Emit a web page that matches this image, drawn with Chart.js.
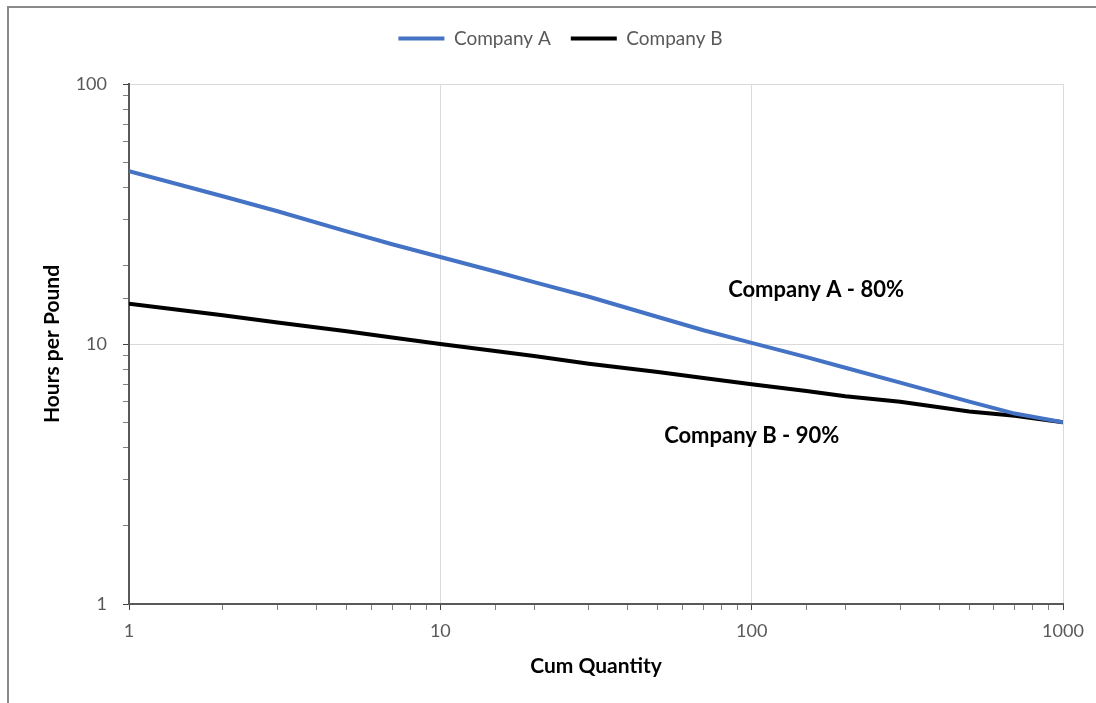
<!DOCTYPE html>
<html>
<head>
<meta charset="utf-8">
<script src="https://cdn.jsdelivr.net/npm/chart.js@4.4.1/dist/chart.umd.min.js"></script>
<style>
  html, body { margin: 0; padding: 0; background: #fff; }
  #wrap { position: relative; width: 1096px; height: 703px; overflow: hidden; }
  #c { position: absolute; left: 0; top: 0; }
  #frame { position: absolute; left: 7px; top: 6px; right: -4px; bottom: -4px;
           border-top: 2px solid #8a8a8a; border-left: 2px solid #8a8a8a; pointer-events: none; }
</style>
</head>
<body>
<div id="wrap">
  <canvas id="c" width="1096" height="703"></canvas>
  <div id="frame"></div>
</div>
<script>
// Cumulative quantity (units) and hours per pound for each learning curve
const quantities = [1, 2, 3, 5, 7, 10, 15, 20, 30, 50, 70, 100, 150, 200, 300, 500, 700, 1000];
const companyA   = [46.2, 37.0, 32.4, 27.1, 24.2, 21.6, 19.0, 17.3, 15.2, 12.7, 11.3, 10.1, 8.9, 8.1, 7.1, 6.0, 5.4, 5.0];
const companyB   = [14.3, 12.9, 12.1, 11.2, 10.6, 10.0, 9.4, 9.0, 8.4, 7.8, 7.4, 7.0, 6.6, 6.3, 6.0, 5.5, 5.3, 5.0];
const seriesNames  = ['Company A', 'Company B'];
const seriesColors = ['#4472C4', '#000000'];
const xDecades = [1, 10, 100, 1000];
const yDecades = [1, 10, 100];
const curveLabels = ['Company A - 80%', 'Company B - 90%'];

// where the curve labels sit, in data units
const labelAnchors = [{ x: 161, y: 16.1 }, { x: 100, y: 4.43 }];

const FONT = 'Lato, "Open Sans", sans-serif';
const isDecade = v => Math.abs(Math.log10(v) - Math.round(Math.log10(v))) < 1e-9;

const curveLabelPlugin = {
  id: 'curveLabels',
  afterDatasetsDraw(chart) {
    const { ctx, scales } = chart;
    ctx.save();
    ctx.font = 'bold 22px ' + FONT;
    ctx.fillStyle = '#000';
    ctx.textAlign = 'center';
    ctx.textBaseline = 'middle';
    curveLabels.forEach((t, i) => {
      const a = labelAnchors[i];
      ctx.fillText(t, scales.x.getPixelForValue(a.x), scales.y.getPixelForValue(a.y));
    });
    ctx.restore();
  }
};

// legend box: reserve room below the row and nudge it a little to the right
const legendSpacing = {
  id: 'legendSpacing',
  beforeLayout(chart) {
    const lg = chart.legend;
    if (lg && !lg._tallFit) {
      const baseFit = Object.getPrototypeOf(lg).fit;
      lg.fit = function () { baseFit.call(this); this.height = 75; };
      lg._tallFit = true;
    }
  },
  afterLayout(chart) {
    if (chart.legend) {
      chart.legend.left += 9;
      chart.legend.right += 9;
    }
  }
};

const toPoints = vals => quantities.map((q, i) => ({ x: q, y: vals[i] }));

new Chart(document.getElementById('c'), {
  type: 'line',
  data: {
    datasets: [companyA, companyB].map((vals, i) => ({
      label: seriesNames[i],
      data: toPoints(vals),
      borderColor: seriesColors[i],
      backgroundColor: seriesColors[i],
      borderWidth: 4,
      pointRadius: 0,
      tension: 0
    }))
  },
  options: {
    responsive: false,
    animation: false,
    layout: { padding: { left: 40, right: 33, top: 9, bottom: 24 } },
    plugins: {
      tooltip: { enabled: false },
      legend: {
        position: 'top',
        labels: {
          font: { family: FONT, size: 19 },
          color: '#595959',
          boxWidth: 46,
          boxHeight: 4,
          padding: 20,
          generateLabels(chart) {
            return Chart.defaults.plugins.legend.labels.generateLabels(chart).map(l => {
              l.lineWidth = 0;
              l.strokeStyle = 'transparent';
              return l;
            });
          }
        }
      }
    },
    scales: {
      x: {
        type: 'logarithmic',
        min: 1,
        max: 1000,
        afterFit(s) { s.height = 75; },
        border: { color: '#595959', width: 2 },
        grid: {
          color: c => (c.tick && isDecade(c.tick.value)) ? '#d9d9d9' : 'rgba(0,0,0,0)',
          tickColor: c => (c.tick && isDecade(c.tick.value)) ? '#404040' : '#7f7f7f',
          tickLength: 6,
          lineWidth: 1
        },
        ticks: {
          autoSkip: false,
          maxRotation: 0,
          padding: 10,
          color: '#595959',
          font: { family: FONT, size: 18 },
          callback: v => xDecades.includes(v) ? String(v) : ''
        },
        title: {
          display: true,
          text: 'Cum Quantity',
          color: '#000',
          font: { family: FONT, size: 21, weight: 'bold' },
          padding: { top: 0, bottom: 0 }
        }
      },
      y: {
        type: 'logarithmic',
        min: 1,
        max: 100,
        afterFit(s) { s.width = 89; },
        border: { color: '#595959', width: 2 },
        grid: {
          color: c => (c.tick && isDecade(c.tick.value)) ? '#d9d9d9' : 'rgba(0,0,0,0)',
          tickColor: c => (c.tick && isDecade(c.tick.value)) ? '#404040' : '#7f7f7f',
          tickLength: 6,
          lineWidth: 1
        },
        ticks: {
          autoSkip: false,
          padding: 16,
          color: '#595959',
          font: { family: FONT, size: 18 },
          callback: v => yDecades.includes(v) ? String(v) : ''
        },
        title: {
          display: true,
          text: 'Hours per Pound',
          color: '#000',
          font: { family: FONT, size: 21, weight: 'bold' },
          padding: { top: 0, bottom: 0 }
        }
      }
    }
  },
  plugins: [curveLabelPlugin, legendSpacing]
});
</script>
</body>
</html>
